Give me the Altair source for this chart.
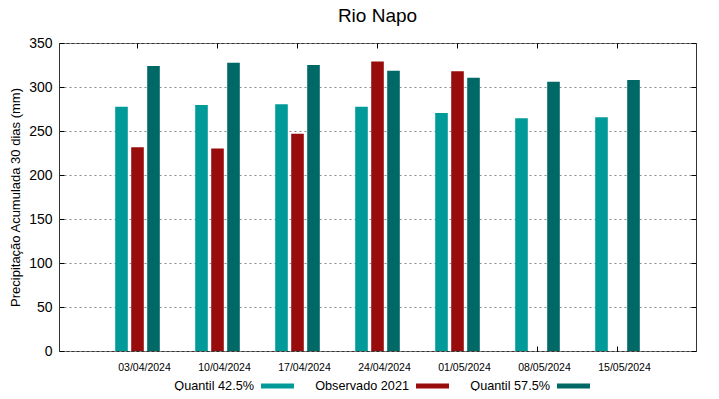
import altair as alt
import pandas as pd

dates = ["03/04/2024", "10/04/2024", "17/04/2024", "24/04/2024",
         "01/05/2024", "08/05/2024", "15/05/2024"]
series_names = ["Quantil 42.5%", "Observado 2021", "Quantil 57.5%"]
q425 = [277.5, 279.5, 280.5, 277.5, 270.5, 264.5, 265.5]
obs2021 = [231.5, 230.0, 247.0, 329.0, 318.0, None, None]
q575 = [324.0, 327.5, 325.0, 318.5, 310.5, 306.0, 308.0]
colors = ["#009b99", "#990c0c", "#006865"]
y_ticks = [0, 50, 100, 150, 200, 250, 300, 350]

rows = []
for i, d in enumerate(dates):
    for name, vals in zip(series_names, [q425, obs2021, q575]):
        if vals[i] is not None:
            rows.append({"date": d, "serie": name, "valor": vals[i]})
df = pd.DataFrame(rows)

FONT = "Liberation Sans"
W, H = 637, 308

xscale = alt.Scale(domain=dates, paddingInner=0.4425, paddingOuter=0.7025)
yscale = alt.Scale(domain=[0, 350], nice=False, zero=True)

bars = alt.Chart(df).mark_bar().encode(
    x=alt.X("date:N", sort=dates, scale=xscale,
            axis=alt.Axis(title=None, labelAngle=0, labelFontSize=10.5,
                          labelPadding=11, domain=False, ticks=False, grid=False,
                          labelColor="#000", labelOffset=7)),
    xOffset=alt.XOffset("serie:N", sort=series_names,
                        scale=alt.Scale(domain=series_names, paddingInner=0.2125, paddingOuter=0)),
    y=alt.Y("valor:Q", scale=yscale,
            axis=alt.Axis(title="Precipitação Acumulada 30 dias (mm)", values=y_ticks,
                          grid=True, gridDash=[2, 3], gridColor="#888", gridWidth=1,
                          domain=False, ticks=False, labelFontSize=14, labelPadding=7,
                          labelColor="#000", titleColor="#000",
                          titleFontSize=13, titleFontWeight="normal", titlePadding=6)),
    color=alt.Color("serie:N", sort=series_names,
                    scale=alt.Scale(domain=series_names, range=colors),
                    legend=alt.Legend(orient="none", legendX=202, legendY=326,
                                      direction="horizontal", columns=3, title=None,
                                      symbolType="M-1,-0.15L1,-0.15L1,0.15L-1,0.15Z",
                                      symbolSize=1089, symbolStrokeWidth=0,
                                      labelAlign="right", labelOffset={"expr": "-40"},
                                      labelFontSize=12.7, labelColor="#000",
                                      columnPadding=21, labelLimit=200)),
)

def tick_layer(axis_x=None, axis_y=None):
    return alt.Chart(df).mark_point(opacity=0).encode(
        x=alt.X("date:N", sort=dates, scale=xscale, axis=axis_x),
        y=alt.Y("valor:Q", scale=yscale, axis=axis_y),
    )

tick_style = dict(labels=False, domain=False, ticks=True, tickSize=5, grid=False,
                  title=None, tickColor="#000", tickWidth=1, offset={"expr": "-5"})
bottom_ticks = tick_layer(axis_x=alt.Axis(orient="bottom", **tick_style))
top_ticks = tick_layer(axis_x=alt.Axis(orient="top", **tick_style))
left_ticks = tick_layer(axis_y=alt.Axis(orient="left", values=y_ticks, **tick_style))
right_ticks = tick_layer(axis_y=alt.Axis(orient="right", values=y_ticks, **tick_style))

chart = alt.layer(bars, bottom_ticks, top_ticks, left_ticks, right_ticks).resolve_axis(
    x="independent", y="independent"
).properties(
    width=W, height=H,
    autosize=alt.AutoSizeParams(type="none"),
    padding={"left": 51, "top": 35, "right": 15, "bottom": 40},
    title=alt.TitleParams("Rio Napo", fontSize=19, fontWeight="normal", anchor="middle",
                          offset=10, color="#000", font=FONT),
).configure(
    font=FONT, background="white"
).configure_view(
    stroke="#333", strokeWidth=1
)

chart.save("out.html", embed_options={"renderer": "svg", "actions": False})
